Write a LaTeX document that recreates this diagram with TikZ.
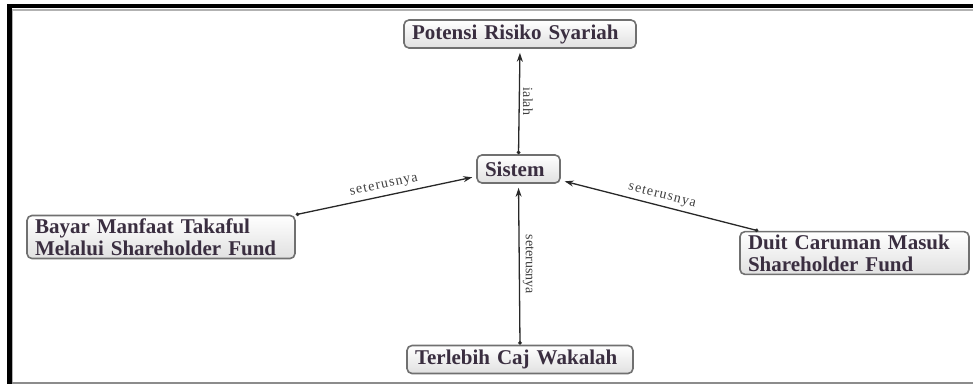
\documentclass[tikz,border=0pt]{standalone}
\usepackage{fontspec}
\setmainfont{Liberation Serif}
\usetikzlibrary{arrows.meta}
\definecolor{boxText}{RGB}{58,46,64}
\definecolor{boxLine}{RGB}{112,112,112}
\definecolor{edgeLine}{RGB}{40,40,40}

\begin{document}
\begin{tikzpicture}
[x=1pt,y=-1pt,
  lineDecorate/.style={{Circle[length=3.5pt]}-{Stealth[length=9pt,width=6pt]},line width=1.3pt,draw=edgeLine,shorten >=4pt},%
  nodeDecorate/.style={shape=rectangle,rounded corners=5pt,draw=boxLine,line width=1.6pt,
    top color=white,bottom color=black!12,inner xsep=8pt,inner ysep=3pt,minimum height=28pt,
    align=left,text=boxText,font=\fontsize{21}{22}\selectfont\bfseries},
  sideLabel/.style={anchor=south,rotate=-90,inner sep=3pt,text=black!75,
    font=\fontsize{14}{14}\selectfont},
  slopeLabel/.style={sloped,above,inner sep=4pt,text=black!75,
    font=\fontsize{14}{14}\selectfont\addfontfeatures{LetterSpace=8}}]
\useasboundingbox (0,0) rectangle (973,384);
%% frame
\fill[white] (0,0) rectangle (973,384);
\draw[black!30,line width=1.5pt] (12,10) -- (973,10);
\draw[black!30,line width=1.5pt] (12,10) -- (12,384);
\draw[line width=4pt] (7,6) -- (973,6);
\draw[line width=5pt] (9.5,4) -- (9.5,384);
\draw[black!45,line width=2pt] (12,382.5) -- (973,382.5);
%% nodes or vertices
\foreach \nodename/\x/\y/\w/\nodetext in {
  potensi/520/34/216/{Potensi Risiko Syariah},
  sistem/518.5/169/67/{Sistem},
  bayar/161/237/252/{Bayar Manfaat Takaful\\Melalui Shareholder Fund},
  duit/854.5/253/213/{Duit Caruman Masuk\\Shareholder Fund},
  terlebih/520/359.5/210/{Terlebih Caj Wakalah}}
{
  \node (\nodename) at (\x,\y) [nodeDecorate,text width=\w pt] {\nodetext};
}
%% edges or lines
\path
\foreach \startnode/\endnode/\labelkind/\labeltext in {
  sistem.north/potensi.south/sideLabel/ialah,
  terlebih.north/sistem.south/sideLabel/seterusnya,
  bayar.north east/sistem.190/slopeLabel/seterusnya,
  duit.167/sistem.345/slopeLabel/seterusnya}
{
  (\startnode) edge[lineDecorate] node[\labelkind] {\labeltext} (\endnode)
};
\end{tikzpicture}
\end{document}
